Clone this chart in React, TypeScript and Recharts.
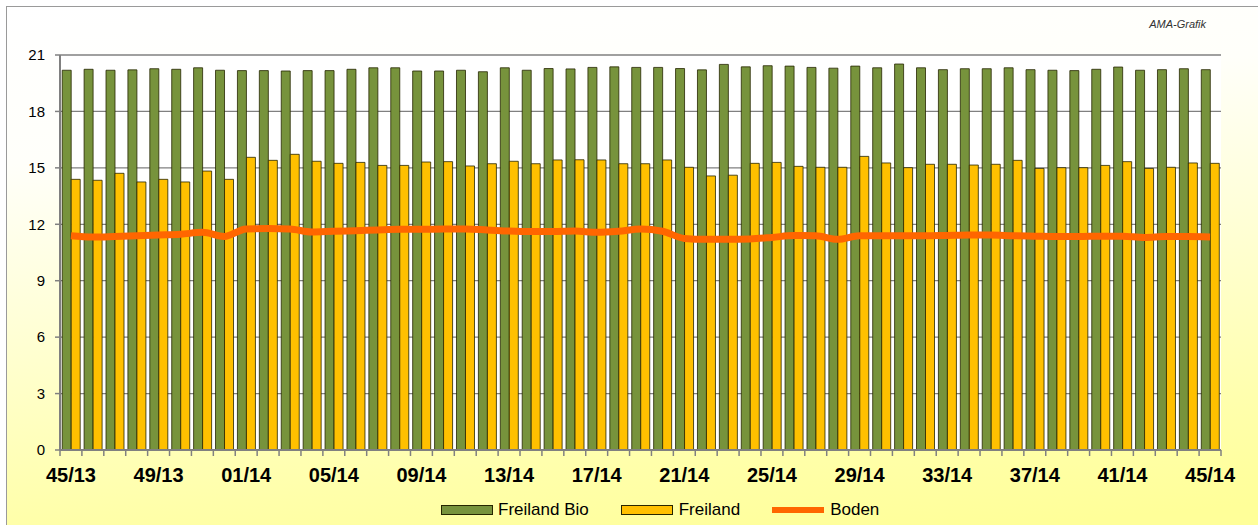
import React from "react";
import {
  ComposedChart,
  Bar,
  Line,
  XAxis,
  YAxis,
  CartesianGrid,
  Legend,
} from "recharts";

const weeks = [
  "45/13", "46/13", "47/13", "48/13", "49/13", "50/13", "51/13", "52/13",
  "01/14", "02/14", "03/14", "04/14", "05/14", "06/14", "07/14", "08/14",
  "09/14", "10/14", "11/14", "12/14", "13/14", "14/14", "15/14", "16/14",
  "17/14", "18/14", "19/14", "20/14", "21/14", "22/14", "23/14", "24/14",
  "25/14", "26/14", "27/14", "28/14", "29/14", "30/14", "31/14", "32/14",
  "33/14", "34/14", "35/14", "36/14", "37/14", "38/14", "39/14", "40/14",
  "41/14", "42/14", "43/14", "44/14", "45/14",
];

const freilandBio = [
  20.19, 20.24, 20.19, 20.21, 20.27, 20.24, 20.32, 20.19, 20.17, 20.17,
  20.15, 20.17, 20.17, 20.24, 20.32, 20.32, 20.15, 20.15, 20.19, 20.11,
  20.32, 20.19, 20.28, 20.26, 20.34, 20.37, 20.34, 20.34, 20.28, 20.21,
  20.5, 20.37, 20.43, 20.41, 20.34, 20.3, 20.41, 20.32, 20.52, 20.32,
  20.22, 20.27, 20.27, 20.32, 20.22, 20.19, 20.17, 20.24, 20.36, 20.19,
  20.22, 20.27, 20.22,
];

const freiland = [
  14.39, 14.34, 14.71, 14.25, 14.39, 14.25, 14.83, 14.39, 15.56, 15.4,
  15.72, 15.35, 15.24, 15.29, 15.13, 15.13, 15.31, 15.33, 15.1, 15.22,
  15.35, 15.22, 15.42, 15.43, 15.42, 15.22, 15.22, 15.42, 15.03, 14.57,
  14.61, 15.24, 15.29, 15.08, 15.03, 15.03, 15.61, 15.26, 15.01, 15.19,
  15.19, 15.15, 15.19, 15.4, 14.97, 15.01, 15.01, 15.13, 15.33, 14.97,
  15.03, 15.26, 15.24,
];

const boden = [
  11.39, 11.32, 11.35, 11.39, 11.43, 11.47, 11.57, 11.35, 11.75, 11.77,
  11.75, 11.59, 11.63, 11.66, 11.7, 11.73, 11.73, 11.75, 11.75, 11.7,
  11.64, 11.61, 11.61, 11.64, 11.57, 11.63, 11.75, 11.63, 11.25, 11.2,
  11.2, 11.22, 11.3, 11.4, 11.39, 11.2, 11.39, 11.39, 11.39, 11.39,
  11.41, 11.43, 11.43, 11.39, 11.37, 11.35, 11.35, 11.37, 11.37, 11.3,
  11.35, 11.35, 11.33,
];

const yTicks = [0, 3, 6, 9, 12, 15, 18, 21];

const data = weeks.map((w, i) => ({
  week: w,
  bio: freilandBio[i],
  frei: freiland[i],
  boden: boden[i],
}));

const FONT = '"Liberation Sans", Arial, sans-serif';
const GREEN = "#77933C";
const YELLOW = "#FFC000";
const ORANGE = "#FF6600";
const BAR_STROKE = "#262600";

const XTick = (props: any) => {
  const { x, y, payload, index } = props;
  const half = payload && payload.offset ? payload.offset : 10.95;
  const idx = typeof index === "number" ? index : payload.index;
  const showLabel = idx % 4 === 0;
  const axisY = y - 18;
  return (
    <g>
      <line x1={x - half} x2={x - half} y1={axisY} y2={axisY + 6} stroke="#808080" strokeWidth={1.5} />
      {idx === weeks.length - 1 && (
        <line x1={x + half} x2={x + half} y1={axisY} y2={axisY + 6} stroke="#808080" strokeWidth={1.5} />
      )}
      {showLabel && (
        <text
          x={x}
          y={y}
          dy="0.71em"
          textAnchor="middle"
          fontSize={20}
          fontWeight="bold"
          fontFamily={FONT}
          fill="#000"
        >
          {payload.value}
        </text>
      )}
    </g>
  );
};

const LegendContent = () => (
  <div
    style={{
      display: "flex",
      alignItems: "center",
      height: 20,
      marginLeft: 441,
      fontFamily: FONT,
      fontSize: 17,
      color: "#000",
      whiteSpace: "nowrap",
    }}
  >
    <span style={{ display: "inline-block", width: 50, height: 8, background: GREEN, border: `1px solid ${BAR_STROKE}` }} />
    <span style={{ marginLeft: 5, marginRight: 32 }}>Freiland Bio</span>
    <span style={{ display: "inline-block", width: 50, height: 8, background: YELLOW, border: `1px solid ${BAR_STROKE}` }} />
    <span style={{ marginLeft: 6, marginRight: 32 }}>Freiland</span>
    <span style={{ display: "inline-block", width: 52, height: 6, background: ORANGE }} />
    <span style={{ marginLeft: 6 }}>Boden</span>
  </div>
);

export default function App() {
  return (
    <div
      style={{
        position: "absolute",
        left: 0,
        top: 0,
        width: 1258,
        height: 525,
        overflow: "hidden",
        background: "#ffffff",
        fontFamily: FONT,
      }}
    >
      <div
        style={{
          position: "absolute",
          left: 6,
          top: 6,
          width: 1300,
          height: 600,
          borderLeft: "1.5px solid #9a9a9a",
          borderTop: "1.5px solid #9a9a9a",
          background:
            "linear-gradient(175deg, #FFFFFF 0%, #FFFFFA 22%, #FFFFD6 45%, #FFFFAA 72%, #FFFF99 85%)",
        }}
      />
      <div
        style={{
          position: "absolute",
          right: 52,
          top: 18,
          fontSize: 11,
          fontStyle: "italic",
          color: "#333",
          fontFamily: FONT,
        }}
      >
        AMA-Grafik
      </div>
      <div style={{ position: "absolute", left: 0, top: 0 }}>
        <ComposedChart
          width={1258}
          height={525}
          data={data}
          margin={{ top: 55, right: 37, bottom: 5, left: 0 }}
          barCategoryGap="10%"
          barGap={0}
          style={{ fontFamily: FONT }}
        >
          <CartesianGrid
            vertical={false}
            horizontal={true}
            stroke="#808080"
            strokeWidth={1.3}
            fill="#FFFFFF"
            fillOpacity={1}
          />
          <XAxis
            dataKey="week"
            interval={0}
            height={50}
            tickLine={false}
            axisLine={{ stroke: "#808080", strokeWidth: 2 }}
            tick={<XTick />}
            tickMargin={18}
            tickSize={0}
          />
          <XAxis
            xAxisId="top"
            dataKey="week"
            orientation="top"
            height={0}
            tick={false}
            tickLine={false}
            axisLine={{ stroke: "#000", strokeWidth: 2 }}
          />
          <YAxis
            domain={[0, 21]}
            ticks={yTicks}
            width={60}
            tickSize={5}
            tickMargin={10}
            interval={0}
            allowDataOverflow
            tickLine={{ stroke: "#808080", strokeWidth: 1.5 }}
            axisLine={{ stroke: "#808080", strokeWidth: 2 }}
            tick={{ fontSize: 15, fill: "#000", fontFamily: FONT }}
          />
          <YAxis
            yAxisId="right"
            orientation="right"
            domain={[0, 21]}
            width={0}
            tick={false}
            tickLine={false}
            axisLine={{ stroke: "#000", strokeWidth: 2 }}
          />
          <Legend verticalAlign="bottom" align="left" content={<LegendContent />} wrapperStyle={{ left: 0, width: 1258 }} />
          <Bar
            dataKey="bio"
            name="Freiland Bio"
            fill={GREEN}
            stroke={BAR_STROKE}
            strokeWidth={0.8}
            isAnimationActive={false}
          />
          <Bar
            dataKey="frei"
            name="Freiland"
            fill={YELLOW}
            stroke={BAR_STROKE}
            strokeWidth={0.8}
            isAnimationActive={false}
          />
          <Line
            dataKey="boden"
            name="Boden"
            type="monotone"
            stroke={ORANGE}
            strokeWidth={7}
            dot={false}
            activeDot={false}
            isAnimationActive={false}
          />
        </ComposedChart>
      </div>
    </div>
  );
}
